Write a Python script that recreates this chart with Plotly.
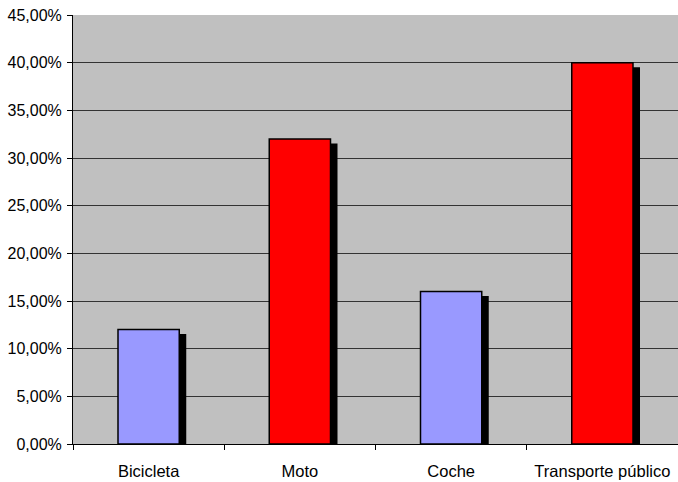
import plotly.graph_objects as go

categories = ["Bicicleta", "Moto", "Coche", "Transporte público"]
values = [0.12, 0.32, 0.16, 0.40]
colors = ["#9999FF", "#FF0000", "#9999FF", "#FF0000"]

W, H = 678, 482
ml, mr, mt, mb = 73, 0, 15, 38
plot_w = W - ml - mr
plot_h = H - mt - mb
ymax = 0.45
cat_px = plot_w / len(categories)
dx = 7 / cat_px
dy = 4.5 * ymax / plot_h
bw = 0.405

fig = go.Figure()
fig.add_trace(go.Bar(
    x=categories, y=[v - dy for v in values],
    width=bw, offset=-bw / 2 + dx,
    marker=dict(color="black", line=dict(width=0)),
    hoverinfo="skip", showlegend=False,
))
fig.add_trace(go.Bar(
    x=categories, y=values,
    width=bw, offset=-bw / 2,
    marker=dict(color=colors, line=dict(color="black", width=1.5)),
    showlegend=False,
))
fig.update_layout(
    width=W, height=H,
    margin=dict(l=ml, r=mr, t=mt, b=mb),
    barmode="overlay",
    paper_bgcolor="white",
    plot_bgcolor="#C0C0C0",
    separators=",.",
    font=dict(family="Liberation Sans, Arial, sans-serif", size=16, color="black"),
    xaxis=dict(
        type="category", tickson="boundaries", ticks="outside", ticklen=5,
        tickcolor="black", showline=True, linecolor="black", linewidth=1,
        showgrid=False, tickfont=dict(size=16.5), ticklabelstandoff=12,
    ),
    yaxis=dict(
        range=[0, ymax], dtick=0.05, tickformat=".2%", ticks="outside",
        ticklen=5, tickcolor="black", showline=True, linecolor="black",
        linewidth=1, showgrid=True, gridcolor="#333333", gridwidth=1.2,
        zeroline=False, tickfont=dict(size=16), ticklabelstandoff=2,
    ),
)
fig.write_html("out.html")
